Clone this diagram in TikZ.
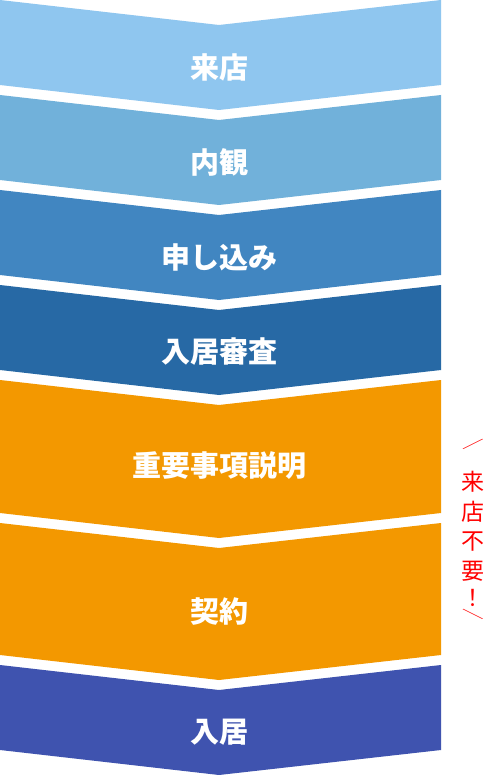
\documentclass[tikz,border=0pt]{standalone}
\usepackage{fontspec}
\setmainfont{Noto Sans CJK JP}

\definecolor{paso1}{HTML}{8FC6EF}
\definecolor{paso2}{HTML}{71B1DA}
\definecolor{paso3}{HTML}{4186C1}
\definecolor{paso4}{HTML}{2769A5}
\definecolor{paso5}{HTML}{F39800}
\definecolor{paso7}{HTML}{3F53AF}

\begin{document}
\begin{tikzpicture}[x=1pt,y=-1pt,
        etiqueta/.style={text=white,font=\fontsize{29}{29}\selectfont\bfseries},
        aviso/.style={text=red,font=\fontsize{23}{23}\selectfont},
        barra/.style={text=red,font=\fontsize{24}{24}\selectfont\bfseries,
            xscale=0.9,yscale=0.45}]
        % Fija el marco de la imagen
        \fill[white] (0,0) rectangle (486,775);

        % Dibuja las bandas en forma de flecha (arriba, abajo, color)
        \foreach \a/\b/\c in {
            0/85/paso1,
            95/180/paso2,
            190/275/paso3,
            285/370/paso4,
            380/513/paso5,
            523/655/paso5,
            665/750/paso7%
        }{
            \fill[\c] (0,\a) -- (219,\a+25) -- (441,\a) -- (441,\b)
                -- (219,\b+25) -- (0,\b) -- cycle;
        }

        % Etiqueta cada paso en el centro de su banda
        \node[etiqueta] (raiten)  at (219,67)  {来店};
        \node[etiqueta] (naikan)  at (219,162) {内観};
        \node[etiqueta] (moushi)  at (219,257) {申し込み};
        \node[etiqueta] (shinsa)  at (219,352) {入居審査};
        \node[etiqueta] (setsumei) at (219,466) {重要事項説明};
        \node[etiqueta] (keiyaku) at (219,612) {契約};
        \node[etiqueta] (nyukyo)  at (219,732) {入居};

        % Nota vertical en rojo a la derecha
        \node[barra] (abre) at (473,444) {／};
        \foreach \y/\t [count=\i] in {482/来, 512/店, 542/不, 571/要, 598/！}{
            \node[aviso] (aviso\i) at (473,\y) {\t};
        }
        \node[barra] (cierra) at (473,614) {＼};
    \end{tikzpicture}
\end{document}
